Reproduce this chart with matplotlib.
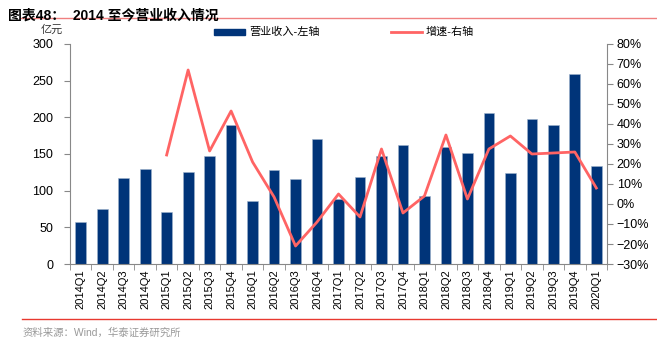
import numpy as np
import matplotlib.pyplot as plt
from matplotlib.ticker import FixedLocator, PercentFormatter

plt.rcParams['font.family'] = ['Liberation Sans', 'Noto Sans CJK SC', 'DejaVu Sans']

quarters = [f'{y}Q{q}' for y in range(2014, 2020) for q in range(1, 5)] + ['2020Q1']
revenue = [57, 75, 117, 129, 71, 125, 147, 189, 86, 128, 116, 170, 89, 118, 147, 162,
           93, 159, 151, 206, 124, 198, 189, 259, 134]
# growth starts 2015Q1
growth = [None] * 4 + [24.5, 67, 26.5, 46.5, 21, 3.5, -21, -9, 5, -6.5, 27.5, -4.5,
                       4, 34.5, 2.5, 27.5, 34, 25, 25.5, 26, 8]

bar_color = '#003479'
line_color = '#FF6464'
axis_color = '#888888'

fig = plt.figure(figsize=(6.57, 3.41), dpi=100)
ax = fig.add_axes([0.1065, 0.2258, 0.8175, 0.6452])
x = np.arange(len(quarters))
ax.bar(x, revenue, width=0.5, color=bar_color, edgecolor='#9fb3cc', linewidth=0.4)
ax.set_xlim(-0.5, len(quarters) - 0.5)
ax.set_ylim(0, 300)
ax.set_yticks(range(0, 301, 50))
ax.set_xticks(x)
ax.set_xticklabels(quarters, rotation=90, fontsize=8)
ax.tick_params(axis='x', length=0, pad=4)
ax.xaxis.set_minor_locator(FixedLocator(np.arange(-0.5, len(quarters), 1)))
ax.tick_params(axis='x', which='minor', length=4, color=axis_color)
ax.tick_params(axis='y', labelsize=9, length=4, color=axis_color, pad=8)
for s in ['top', 'right']:
    ax.spines[s].set_visible(False)
for s in ['left', 'bottom']:
    ax.spines[s].set_color(axis_color)

ax2 = ax.twinx()
gx = [i for i, g in enumerate(growth) if g is not None]
gy = [g for g in growth if g is not None]
ax2.plot(gx, gy, color=line_color, linewidth=2)
ax2.set_ylim(-30, 80)
ax2.set_yticks(range(-30, 81, 10))
ax2.yaxis.set_major_formatter(PercentFormatter(decimals=0))
ax2.tick_params(axis='y', labelsize=9, length=4, color=axis_color, pad=3)
for s in ['top', 'left', 'bottom']:
    ax2.spines[s].set_visible(False)
ax2.spines['right'].set_color(axis_color)

# title, unit, legend
fig.text(0.012, 0.975, '图表48：  2014 至今营业收入情况', fontsize=10, fontweight='bold', va='top')
fig.add_artist(plt.Line2D([0.03, 1.0], [0.947, 0.947], color='#f08080', linewidth=1))
fig.text(0.062, 0.912, '亿元', fontsize=8, va='center', color='#333333')
fig.add_artist(plt.Rectangle((0.325, 0.898), 0.048, 0.016, color=bar_color))
fig.text(0.38, 0.906, '营业收入-左轴', fontsize=8, va='center')
fig.add_artist(plt.Line2D([0.595, 0.642], [0.906, 0.906], color=line_color, linewidth=2))
fig.text(0.648, 0.906, '增速-右轴', fontsize=8, va='center')

fig.add_artist(plt.Line2D([0.033, 1.0], [0.064, 0.064], color='#e8392f', linewidth=1))
fig.text(0.035, 0.025, '资料来源：Wind，华泰证券研究所', fontsize=7.5, color='#999999', va='center')

fig.savefig('out.png', dpi=100)
